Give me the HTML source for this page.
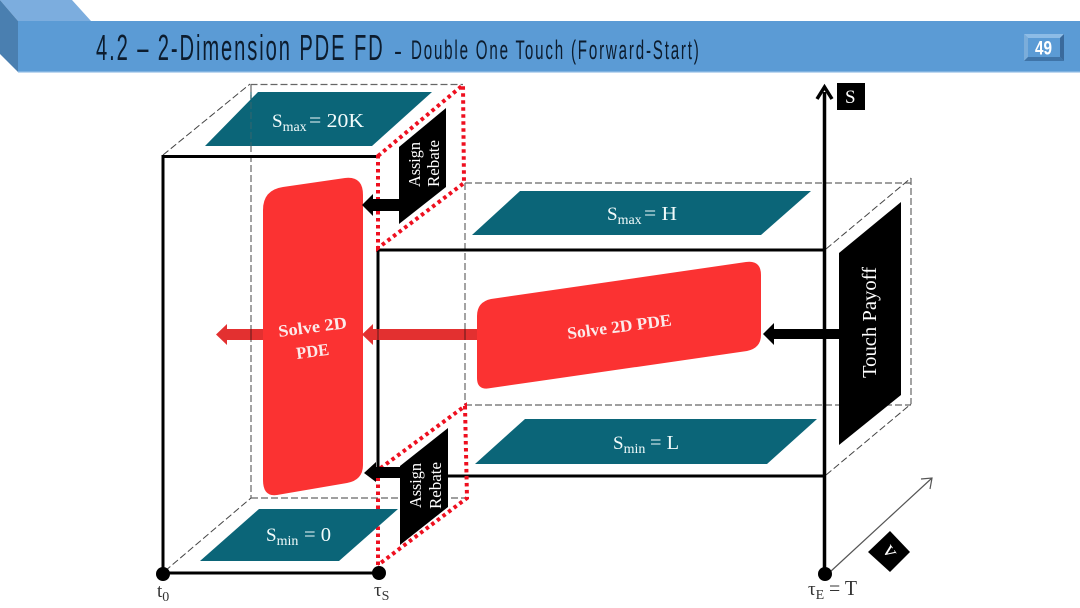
<!DOCTYPE html>
<html><head><meta charset="utf-8"><style>
html,body{margin:0;padding:0;background:#fff}
svg{display:block}
text{font-family:"Liberation Serif",serif}
.t{font-family:"Liberation Sans",sans-serif;fill:#0c1c2e}
.w{fill:#f2fbfb}
.k{fill:#333}
</style></head><body>
<svg width="1080" height="608" viewBox="0 0 1080 608" xmlns="http://www.w3.org/2000/svg">
<rect width="1080" height="608" fill="#fff"/>
<!-- header -->
<polygon points="0,0 72,0 91,21 18,21" fill="#7cadde"/>
<polygon points="0,0 18,21 18,72 0,54" fill="#4a7fb0"/>
<rect x="18" y="21" width="1062" height="51" fill="#5b9bd5"/>
<rect x="18" y="71" width="1062" height="1.5" fill="#7fb2e0"/>
<text class="t" transform="translate(96,60) scale(.56,1)" font-size="36" textLength="512">4.2 – 2-Dimension PDE FD</text>
<text class="t" x="394" y="60" font-size="27" textLength="8" lengthAdjust="spacingAndGlyphs">-</text>
<text class="t" transform="translate(411,59) scale(.56,1)" font-size="27" textLength="514">Double One Touch (Forward-Start)</text>
<!-- page number -->
<rect x="1024" y="34" width="40" height="27" fill="#5b9bd5"/>
<polygon points="1024,34 1064,34 1060,38 1028,38" fill="#8dbce6"/>
<polygon points="1024,34 1028,38 1028,57 1024,61" fill="#7badda"/>
<polygon points="1064,34 1060,38 1060,57 1064,61" fill="#3a6a9c"/>
<polygon points="1024,61 1028,57 1060,57 1064,61" fill="#3f74a8"/>
<text x="1035" y="54.500" font-size="19" font-weight="bold" fill="#fff" style="font-family:'Liberation Sans',sans-serif" textLength="17" lengthAdjust="spacingAndGlyphs">49</text>

<!-- dashed -->
<g fill="none" stroke="#666" stroke-width="1.2" stroke-dasharray="7 3">
<path d="M250.500 84.500H463"/>
<path d="M251 85V498"/>
<path d="M251 498H467"/>
<path d="M465 183V405"/>
<path d="M465 183H911"/>
<path d="M465 405H911"/>
<path d="M911 178V404"/>
</g>
<g fill="none" stroke="#444" stroke-width="1" stroke-dasharray="7 3">
<path d="M163 155L250 84"/>
<path d="M165 571L251 498"/>
<path d="M826 249L911 178"/>
<path d="M826 475L911 404"/>
</g>

<!-- black frame -->
<g fill="none" stroke="#000" stroke-width="3">
<path d="M378 156.500H163V573H378"/>
<path d="M378 474V250H824"/>
<path d="M378 476H824"/>
</g>
<path d="M824.500 573V92" stroke="#000" stroke-width="3.500" fill="none"/>
<path d="M817 99L824.500 87L832 99" stroke="#000" stroke-width="3.500" fill="none"/>

<!-- red dotted -->
<g fill="none" stroke="#ee0f1f" stroke-width="4" stroke-dasharray="3.500 3.500">
<path d="M378 156L463 85L464 183L378 248Z"/>
<path d="M378 565V470L465 406L467 498L378 565"/>
</g>

<!-- teal parallelograms -->
<g fill="#0b6578">
<polygon points="205,146 258,92 432,92 372,146"/>
<polygon points="472,235 520,191 811,191 761,235"/>
<polygon points="475,464 525,419 817,419 767,464"/>
<polygon points="200,561 259,509 398,509 339,561"/>
</g>
<path d="M251 92V146" stroke="#2f6670" stroke-width="1.200" stroke-dasharray="7 3"/>

<!-- teal labels -->
<text class="w" font-size="19" x="272" y="127">S<tspan font-size="14" dy="4">max</tspan></text>
<text class="w" font-size="20" x="309" y="127" textLength="55" lengthAdjust="spacingAndGlyphs">= 20K</text>
<text class="w" font-size="19" x="607" y="220">S<tspan font-size="14" dy="4">max</tspan></text>
<text class="w" font-size="20" x="644" y="220" textLength="33" lengthAdjust="spacingAndGlyphs">= H</text>
<text class="w" font-size="19" x="613" y="449">S<tspan font-size="14" dy="4">min</tspan></text>
<text class="w" font-size="20" x="650" y="449" textLength="29" lengthAdjust="spacingAndGlyphs">= L</text>
<text class="w" font-size="19" x="266" y="541">S<tspan font-size="14" dy="4">min</tspan></text>
<text class="w" font-size="20" x="304" y="541" textLength="27" lengthAdjust="spacingAndGlyphs">= 0</text>

<!-- black panels -->
<polygon points="399,147 446,108 446,187 399,224" fill="#000"/>
<polygon points="400,466 448,428 448,507 400,545" fill="#000"/>
<polygon points="839,253 901,202 901,395 839,445" fill="#000"/>
<g fill="#fff" font-size="17">
<text transform="translate(420,187) rotate(-90)" textLength="45" lengthAdjust="spacingAndGlyphs">Assign</text>
<text transform="translate(439,187) rotate(-90)" textLength="47" lengthAdjust="spacingAndGlyphs">Rebate</text>
<text transform="translate(421,508) rotate(-90)" textLength="45" lengthAdjust="spacingAndGlyphs">Assign</text>
<text transform="translate(441,509) rotate(-90)" textLength="47" lengthAdjust="spacingAndGlyphs">Rebate</text>
<text transform="translate(876,378) rotate(-90)" font-size="20" textLength="111" lengthAdjust="spacingAndGlyphs">Touch Payoff</text>
</g>

<!-- red blocks -->
<path d="M263 210Q263 190 283 187L345 178Q363 176 363 195L363 465Q363 480 347 483L277 495Q263 497 263 480Z" fill="#fb3232"/>
<path d="M477 316Q477 302 491 299L746 262Q761 260 761 275L761 335Q761 348 747 351L491 388Q477 391 477 378Z" fill="#fb3232"/>

<!-- red arrows -->
<polygon points="216,334.500 227,324 227,329 263,329 263,340 227,340 227,345" fill="#e33030"/>
<polygon points="362,334.500 373,324 373,329 477,329 477,340 373,340 373,345" fill="#e33030"/>
<path d="M251 329V340M378 329V340M465 329V340" stroke="#8a2020" stroke-width="1.500" fill="none"/>

<!-- black arrows -->
<polygon points="362,205 373,194 373,199 399,199 399,211 373,211 373,216" fill="#000"/>
<polygon points="364,473 376,462 376,467 401,467 401,478 376,478 376,482" fill="#000"/>
<polygon points="763,334 774,323 774,329 839,329 839,339 774,339 774,345" fill="#000"/>

<!-- red block text -->
<g fill="#fbeaea" font-weight="bold" font-size="17">
<text transform="translate(568,339) rotate(-7.500)" textLength="105" lengthAdjust="spacingAndGlyphs">Solve 2D PDE</text>
<text transform="translate(279,337) rotate(-7.500)" textLength="69" lengthAdjust="spacingAndGlyphs">Solve 2D</text>
<text transform="translate(297,359) rotate(-7.500)" textLength="33" lengthAdjust="spacingAndGlyphs">PDE</text>
</g>

<!-- S axis label -->
<rect x="837" y="83" width="28" height="27" fill="#000"/>
<text x="845" y="103" font-size="19" fill="#fff">S</text>

<!-- v axis -->
<path d="M830 572L932 478" stroke="#555" stroke-width="1.200" fill="none"/>
<path d="M921 479L932 478L930 489" stroke="#555" stroke-width="1.200" fill="none"/>
<polygon points="890,531 910,552 890,572 868,552" fill="#000"/>
<text transform="translate(882,550) rotate(55)" font-size="22" fill="#fff">v</text>

<!-- dots -->
<circle cx="163" cy="574" r="7" fill="#000"/>
<circle cx="379" cy="573" r="7" fill="#000"/>
<circle cx="825" cy="574" r="7" fill="#000"/>

<!-- axis labels -->
<text class="k" font-size="19" x="157" y="597">t<tspan font-size="14" dy="4">0</tspan></text>
<text class="k" font-size="19" x="374" y="596">τ<tspan font-size="14" dy="4">S</tspan></text>
<text class="k" font-size="19" x="808" y="595">τ<tspan font-size="14" dy="4">E</tspan></text>
<text class="k" font-size="21" x="829" y="595" textLength="28" lengthAdjust="spacingAndGlyphs">= T</text>
</svg>
</body></html>
